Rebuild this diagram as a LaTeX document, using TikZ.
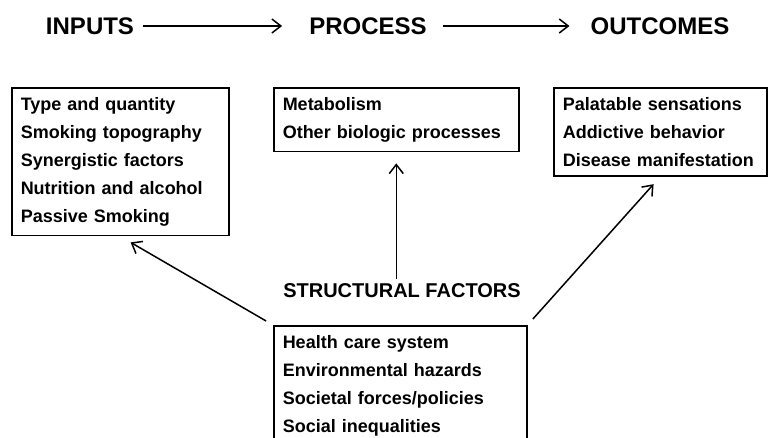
\documentclass[tikz,border=0pt]{standalone}
\usepackage{fontspec}
\setmainfont{Liberation Sans}
\usetikzlibrary{arrows.meta}

\begin{document}
\begin{tikzpicture}
[x=1pt,y=-1pt,
head/.style={font=\fontsize{24}{28}\selectfont\bfseries,inner sep=0pt},
box/.style={draw,line width=1.5pt,anchor=north west,align=left,inner xsep=9pt,inner ysep=9.5pt,font=\fontsize{18}{28}\selectfont\bfseries},
arr/.style={line width=1.5pt,-{Straight Barb[length=9pt,width=14pt,line width=1.5pt]}}]
\useasboundingbox (0,0) rectangle (774,437);
\node[head] (inputs) at (90,26) {INPUTS};
\node[head] (process) at (368,26) {PROCESS};
\node[head] (outcomes) at (660,26) {OUTCOMES};
\node[box,text width=199pt] (ibox) at (11,87) {Type and quantity\\Smoking topography\\Synergistic factors\\Nutrition and alcohol\\Passive Smoking};
\node[box,text width=227pt] (pbox) at (273,87) {Metabolism\\Other biologic processes};
\node[box,text width=195pt] (obox) at (553,87) {Palatable sensations\\Addictive behavior\\Disease manifestation};
\node[head,font=\fontsize{20}{24}\selectfont\bfseries] (stitle) at (402,291) {STRUCTURAL FACTORS};
\node[box,text width=235pt] (sbox) at (273,325) {Health care system\\Environmental hazards\\Societal forces/policies\\Social inequalities};
\draw[arr,shorten <=9pt,shorten >=27pt] (inputs) -- (process);
\draw[arr,shorten <=16pt,shorten >=21pt] (process) -- (outcomes);
\draw[arr,shorten <=5pt,shorten >=11pt] (stitle.north -| pbox.south) -- (pbox.south);
\draw[arr,shorten <=8pt,shorten >=12pt] (sbox.north west) -- (ibox.south);
\draw[arr,shorten <=8pt,shorten >=10pt] (sbox.north east) -- (obox.south);
\end{tikzpicture}
\end{document}
